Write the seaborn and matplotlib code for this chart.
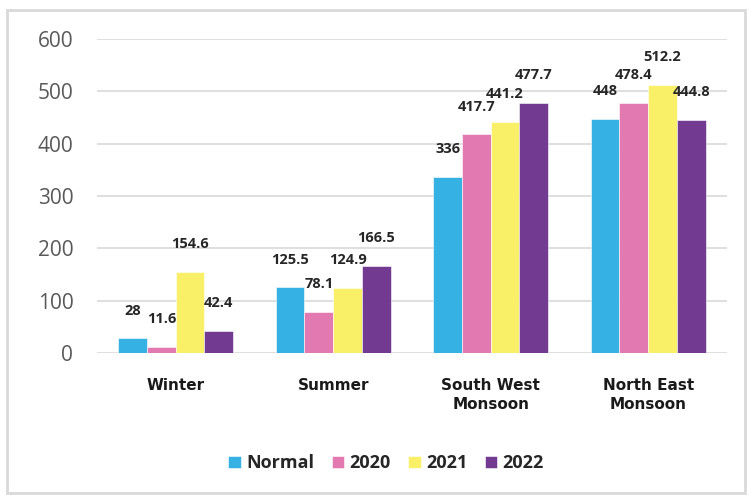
import matplotlib
matplotlib.use("Agg")
import matplotlib.pyplot as plt
import seaborn as sns
import pandas as pd
from matplotlib.patches import Rectangle

seasons = ["Winter", "Summer", "South West\nMonsoon", "North East\nMonsoon"]
series = ["Normal", "2020", "2021", "2022"]
normal = [28, 125.5, 336, 448]
y2020 = [11.6, 78.1, 417.7, 478.4]
y2021 = [154.6, 124.9, 441.2, 512.2]
y2022 = [42.4, 166.5, 477.7, 444.8]
colors = ["#36B1E4", "#E27AB1", "#FAF068", "#733A92"]

rows = []
for name, vals in zip(series, [normal, y2020, y2021, y2022]):
    for s, v in zip(seasons, vals):
        rows.append({"season": s, "series": name, "value": v})
df = pd.DataFrame(rows)

sns.set_style("white")
fig = plt.figure(figsize=(7.5, 4.97), dpi=100)
ax = fig.add_axes([0.1293, 0.2897, 0.84, 0.6318])

sns.barplot(data=df, x="season", y="value", hue="series", order=seasons,
            hue_order=series, palette=colors, width=0.73, saturation=1,
            edgecolor="white", linewidth=0.4, ax=ax, legend=True)

for cont in ax.containers:
    ax.bar_label(cont, labels=[f"{v:g}" for v in cont.datavalues], padding=15,
                 fontsize=10.5, fontweight="bold", color="#262626",
                 family=["Open Sans", "DejaVu Sans"], clip_on=False)

ax.set_ylim(0, 600)
ax.set_xlim(-0.5, 3.5)
ax.set_yticks([0, 100, 200, 300, 400, 500, 600])
ax.yaxis.grid(True, color="#D9D9D9", linewidth=1.2)
ax.set_axisbelow(True)
for sp in ax.spines.values():
    sp.set_visible(False)
ax.set_xlabel("")
ax.set_ylabel("")
ax.tick_params(axis="y", length=0, pad=17, labelsize=15, labelcolor="#595959")
ax.tick_params(axis="x", length=0, pad=18)
for lab in ax.get_yticklabels():
    lab.set_family(["Open Sans", "DejaVu Sans"])
for lab in ax.get_xticklabels():
    lab.set_fontsize(11)
    lab.set_fontweight("bold")
    lab.set_color("#1a1a1a")
    lab.set_linespacing(1.35)

handles, labels = ax.get_legend_handles_labels()
ax.legend(handles, labels, loc="center", bbox_to_anchor=(0.515, 0.068),
          bbox_transform=fig.transFigure, ncol=4, frameon=False,
          handlelength=0.7, handleheight=0.7, handletextpad=0.3,
          columnspacing=0.95,
          prop={"family": ["Open Sans", "DejaVu Sans"], "weight": "bold", "size": 13})

fig.patches.append(Rectangle((0.0093, 0.008), 0.984, 0.972, transform=fig.transFigure,
                             fill=False, edgecolor="#D9D9D9", linewidth=2))

fig.savefig("out.png", dpi=100)
